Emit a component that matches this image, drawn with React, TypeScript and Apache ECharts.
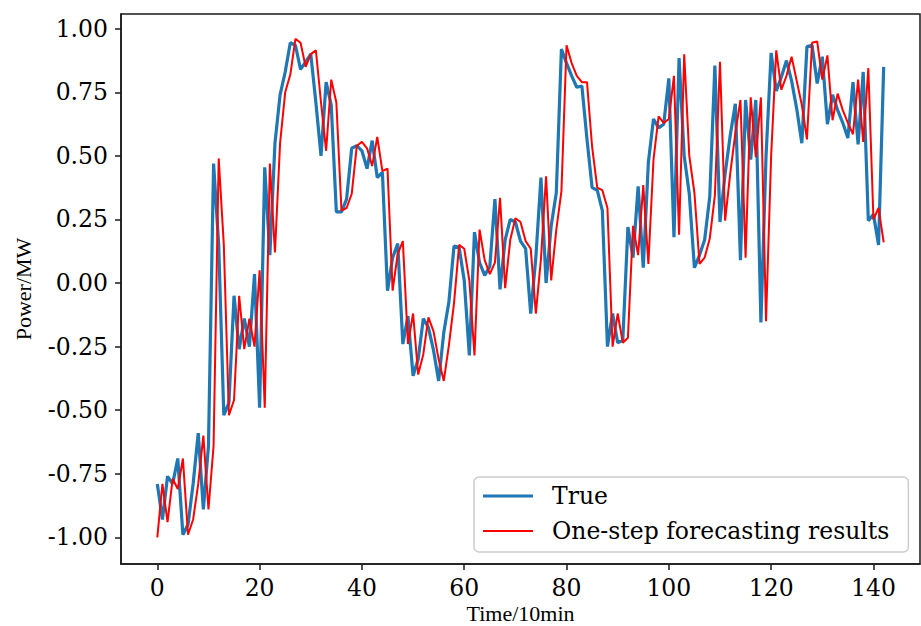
import React, { useEffect, useRef } from "react";
import * as echarts from "echarts";

const trueValues = [
  -0.79, -0.93, -0.76, -0.79, -0.69, -0.99, -0.95, -0.79, -0.59, -0.89,
  -0.64, 0.47, 0.15, -0.52, -0.47, -0.05, -0.26, -0.14, -0.25, 0.035,
  -0.49, 0.455, 0.11, 0.55, 0.74, 0.83, 0.945, 0.935, 0.84, 0.87,
  0.9, 0.71, 0.5, 0.79, 0.7, 0.28, 0.28, 0.33, 0.53, 0.54,
  0.52, 0.45, 0.56, 0.415, 0.435, -0.03, 0.1, 0.155, -0.24, -0.13,
  -0.365, -0.3, -0.14, -0.175, -0.265, -0.385, -0.195, -0.075, 0.145, 0.14,
  0.01, -0.285, 0.2, 0.08, 0.03, 0.065, 0.33, -0.025, 0.17, 0.25,
  0.24, 0.165, 0.135, -0.12, 0.1, 0.415, 0.0, 0.225, 0.355, 0.92,
  0.865, 0.815, 0.77, 0.775, 0.565, 0.375, 0.365, 0.285, -0.25, -0.12,
  -0.235, -0.225, 0.22, 0.1, 0.38, 0.06, 0.475, 0.645, 0.61, 0.625,
  0.805, 0.18, 0.885, 0.5, 0.35, 0.06, 0.11, 0.17, 0.34, 0.855,
  0.24, 0.43, 0.58, 0.705, 0.09, 0.72, 0.485, 0.72, -0.155, 0.5,
  0.905, 0.755, 0.81, 0.875, 0.795, 0.685, 0.55, 0.93, 0.935, 0.785,
  0.89, 0.625, 0.74, 0.68, 0.63, 0.57, 0.79, 0.545, 0.83, 0.245,
  0.27, 0.15, 0.85,
];

const forecastValues = [
  -1.0, -0.79, -0.94, -0.77, -0.81, -0.69, -0.99, -0.93, -0.79, -0.6,
  -0.89, -0.64, 0.49, 0.15, -0.52, -0.46, -0.05, -0.26, -0.14, -0.25,
  0.05, -0.49, 0.47, 0.12, 0.55, 0.75, 0.82, 0.96, 0.945, 0.85,
  0.9, 0.915, 0.71, 0.52, 0.8, 0.71, 0.285, 0.295, 0.35, 0.54,
  0.555, 0.53, 0.46, 0.575, 0.44, 0.45, -0.03, 0.115, 0.165, -0.24,
  -0.12, -0.36, -0.28, -0.135, -0.19, -0.3, -0.385, -0.245, -0.08, 0.15,
  0.135, 0.01, -0.285, 0.21, 0.09, 0.035, 0.08, 0.335, -0.02, 0.17,
  0.255, 0.24, 0.165, 0.135, -0.12, 0.095, 0.42, 0.01, 0.21, 0.36,
  0.935, 0.865, 0.815, 0.79, 0.79, 0.535, 0.375, 0.365, 0.295, -0.25,
  -0.12, -0.235, -0.215, 0.225, 0.11, 0.385, 0.075, 0.485, 0.655, 0.63,
  0.645, 0.815, 0.19, 0.9, 0.5, 0.355, 0.075, 0.1, 0.175, 0.345,
  0.87, 0.245, 0.43, 0.59, 0.72, 0.1, 0.73, 0.495, 0.73, -0.15,
  0.5, 0.915, 0.76, 0.815, 0.89, 0.795, 0.7, 0.565, 0.945, 0.95,
  0.8, 0.895, 0.64, 0.745, 0.68, 0.63, 0.585, 0.8, 0.555, 0.845,
  0.25, 0.295, 0.16,
];

const xTicks = [0, 20, 40, 60, 80, 100, 120, 140];
const yTicks = [-1.0, -0.75, -0.5, -0.25, 0.0, 0.25, 0.5, 0.75, 1.0];

const seriesNames = ["True", "One-step forecasting results"];

const TICK_FONT = "'DejaVu Serif', serif";
const NAME_FONT = "'Liberation Serif', 'Times New Roman', serif";
const FRAME = "#1a1a1a";

export default function App() {
  const ref = useRef<HTMLDivElement>(null);

  useEffect(() => {
    if (!ref.current) return;
    const chart = echarts.init(ref.current, undefined, { renderer: "svg" });
    const option = {
      animation: false,
      backgroundColor: "#ffffff",
      grid: {
        left: 121,
        top: 14,
        width: 799,
        height: 550,
        containLabel: false,
        outerBoundsMode: "none",
        show: true,
        borderColor: FRAME,
        borderWidth: 1.5,
        backgroundColor: "transparent",
      },
      legend: {
        orient: "vertical",
        left: 474,
        top: 477,
        padding: [7, 19, 9, 9],
        itemWidth: 50,
        itemHeight: 24,
        itemGap: 11,
        backgroundColor: "rgba(255,255,255,0.85)",
        borderColor: "#cccccc",
        borderWidth: 1.5,
        borderRadius: 5,
        textStyle: {
          fontFamily: TICK_FONT,
          fontSize: 23.5,
          lineHeight: 24,
          color: "#000",
          padding: [0, 0, 0, 14],
        },
        data: [
          { name: seriesNames[0], icon: "path://M0 0H50V3H0Z" },
          { name: seriesNames[1], icon: "path://M0 0H50V2H0Z" },
        ],
      },
      xAxis: {
        type: "value",
        min: -7.1,
        max: 149.1,
        name: "Time/10min",
        nameLocation: "middle",
        nameGap: 38,
        nameMoveOverlap: false,
        nameTextStyle: {
          fontFamily: NAME_FONT,
          fontSize: 22,
          lineHeight: 22,
          color: "#000",
        },
        axisLine: { show: true, onZero: false, lineStyle: { color: FRAME, width: 1.5 } },
        axisTick: {
          show: true,
          length: 6,
          lineStyle: { color: FRAME, width: 1.5 },
          customValues: xTicks,
        },
        axisLabel: {
          fontFamily: TICK_FONT,
          fontSize: 23.5,
          lineHeight: 22,
          color: "#000",
          margin: 13,
          customValues: xTicks,
        },
        splitLine: { show: false },
      },
      yAxis: {
        type: "value",
        min: -1.105,
        max: 1.058,
        name: "Power/MW",
        nameLocation: "middle",
        nameGap: 87,
        nameRotate: 90,
        nameTextStyle: { fontFamily: NAME_FONT, fontSize: 22, color: "#000" },
        axisLine: { show: true, onZero: false, lineStyle: { color: FRAME, width: 1.5 } },
        axisTick: {
          show: true,
          length: 6,
          lineStyle: { color: FRAME, width: 1.5 },
          customValues: yTicks,
        },
        axisLabel: {
          fontFamily: TICK_FONT,
          fontSize: 23.5,
          color: "#000",
          margin: 13,
          customValues: yTicks,
          formatter: (v: number) => v.toFixed(2),
        },
        splitLine: { show: false },
      },
      series: [
        {
          name: seriesNames[0],
          type: "line",
          data: trueValues.map((v, i) => [i, v]),
          symbol: "none",
          lineStyle: { color: "#1f77b4", width: 3.2 },
          itemStyle: { color: "#1f77b4" },
          z: 2,
        },
        {
          name: seriesNames[1],
          type: "line",
          data: forecastValues.map((v, i) => [i, v]),
          symbol: "none",
          lineStyle: { color: "#ff0000", width: 2 },
          itemStyle: { color: "#ff0000" },
          z: 3,
        },
      ],
    };
    chart.setOption(option as any);
    return () => chart.dispose();
  }, []);

  return (
    <div
      ref={ref}
      style={{ position: "fixed", left: 0, top: 0, width: 921, height: 626 }}
    />
  );
}
